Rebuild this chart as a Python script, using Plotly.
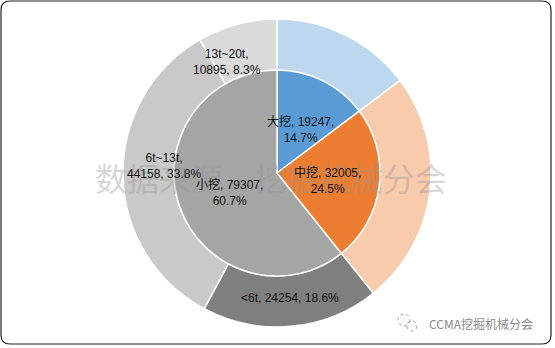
import plotly.graph_objects as go

W, H = 555, 348

inner_labels = ["大挖", "中挖", "小挖"]
inner_values = [19247, 32005, 79307]
inner_colors = ["#5B9BD5", "#ED7D31", "#A5A5A5"]

outer_labels = ["大挖", "中挖", "<6t", "6t~13t", "13t~20t"]
outer_values = [19247, 32005, 24254, 44158, 10895]
outer_colors = ["#BDD7EE", "#F8CBAD", "#7F7F7F", "#C9C9C9", "#DADADA"]
outer_shown = [False, False, True, True, True]

total = sum(inner_values)

def px_to_paper(x, y):
    return x / W, 1 - y / H

cx, cy = 277, 173
R_out, R_in = 154, 103

def dom(r):
    x0, y1 = px_to_paper(cx - r, cy - r)
    x1, y0 = px_to_paper(cx + r, cy + r)
    return dict(x=[x0, x1], y=[y0, y1])

fig = go.Figure()
fig.add_trace(go.Pie(
    labels=outer_labels, values=outer_values, sort=False, direction="clockwise",
    rotation=0, hole=R_in / R_out, domain=dom(R_out), textinfo="none",
    marker=dict(colors=outer_colors, line=dict(color="white", width=1.5)),
    showlegend=False, hoverinfo="label+value+percent",
))
fig.add_trace(go.Pie(
    labels=inner_labels, values=inner_values, sort=False, direction="clockwise",
    rotation=0, domain=dom(R_in), textinfo="none",
    marker=dict(colors=inner_colors, line=dict(color="white", width=1.5)),
    showlegend=False, hoverinfo="label+value+percent",
))

font = dict(family="Liberation Sans, Arial, Noto Sans CJK SC", size=12, color="#111111")

def lbl(name, val, style):
    pct = f"{val / total * 100:.1f}%"
    if style == 0:
        return f"{name}, {val},<br>{pct}"
    if style == 1:
        return f"{name},<br>{val}, {pct}"
    return f"{name}, {val}, {pct}"

ann_pos = {
    "大挖": (300, 129, 0),
    "中挖": (327, 181, 0),
    "小挖": (229, 192, 0),
    "<6t": (290, 298, 2),
    "6t~13t": (164, 166, 1),
    "13t~20t": (227, 62, 1),
}

def ann(x, y, text, f):
    px, py = px_to_paper(x, y)
    return dict(x=px, y=py, xref="paper", yref="paper", showarrow=False,
                xanchor="center", yanchor="middle", text=text, font=f, align="center")

annotations = []
annotations.append(ann(271, 177, "数据来源，挖掘机械分会",
                       dict(family="Noto Sans CJK SC", size=32, color="rgba(150,150,150,0.38)")))
for name, val in zip(inner_labels, inner_values):
    x, y, s = ann_pos[name]
    annotations.append(ann(x, y, lbl(name, val, s), font))
for name, val, shown in zip(outer_labels, outer_values, outer_shown):
    if not shown:
        continue
    x, y, s = ann_pos[name]
    annotations.append(ann(x, y, lbl(name, val, s), font))

annotations.append(ann(481, 323, "CCMA挖掘机械分会",
                       dict(family="Noto Sans CJK SC", size=12, color="#8A8A8A")))

def border_path(x0, y0, x1, y1, r):
    def P(x, y):
        a, b = px_to_paper(x, y)
        return f"{a:.5f},{b:.5f}"
    return (f"M {P(x0 + r, y0)} L {P(x1 - r, y0)} "
            f"Q {P(x1, y0)} {P(x1, y0 + r)} L {P(x1, y1 - r)} "
            f"Q {P(x1, y1)} {P(x1 - r, y1)} L {P(x0 + r, y1)} "
            f"Q {P(x0, y1)} {P(x0, y1 - r)} L {P(x0, y0 + r)} "
            f"Q {P(x0, y0)} {P(x0 + r, y0)} Z")

shapes = [dict(type="path", xref="paper", yref="paper",
               path=border_path(1, 1, 551, 344, 9),
               line=dict(color="#222222", width=1.2))]

for (ix, iy, ir) in [(404, 320, 6), (412, 326, 5)]:
    x0, y1 = px_to_paper(ix - ir, iy - ir)
    x1, y0 = px_to_paper(ix + ir, iy + ir)
    shapes.append(dict(type="circle", xref="paper", yref="paper",
                       x0=x0, x1=x1, y0=y0, y1=y1,
                       line=dict(color="#9A9A9A", width=1, dash="dot")))

fig.update_layout(
    width=W, height=H, margin=dict(l=0, r=0, t=0, b=0),
    paper_bgcolor="white", plot_bgcolor="white",
    annotations=annotations, shapes=shapes,
)

fig.write_html("out.html")
